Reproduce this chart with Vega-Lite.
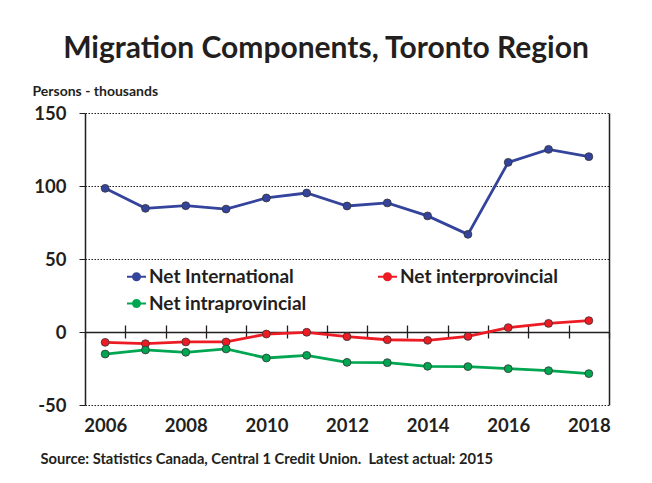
{
  "$schema": "https://vega.github.io/schema/vega-lite/v6.json",
  "width": 524,
  "height": 292,
  "autosize": {"type": "none"},
  "padding": {"left": 85, "top": 113, "right": 43, "bottom": 78},
  "background": "white",
  "title": {
    "text": "Migration Components, Toronto Region",
    "anchor": "middle",
    "frame": "group",
    "dx": -21,
    "font": "Lato",
    "fontSize": 30,
    "fontWeight": "bold",
    "color": "#231F20",
    "offset": 20
  },
  "config": {
    "view": {"stroke": null},
    "font": "Lato",
    "legend": {
      "orient": "none",
      "direction": "horizontal",
      "legendX": 41,
      "legendY": 153,
      "columns": 2,
      "columnPadding": 67,
      "rowPadding": 6,
      "padding": 0,
      "title": null,
      "symbolType": "M-1,0L1,0M-0.37,0A0.37,0.37,0,1,1,0.37,0A0.37,0.37,0,1,1,-0.37,0Z",
      "symbolSize": 361,
      "symbolStrokeWidth": 2,
      "symbolOpacity": 1,
      "labelFont": "Lato",
      "labelFontSize": 19,
      "labelFontWeight": "bold",
      "labelColor": "#231F20",
      "labelOffset": 2,
      "labelLimit": 300
    }
  },
  "data": {
    "values": [
      {"year": 2006, "series": "Net International", "value": 98.4},
      {"year": 2007, "series": "Net International", "value": 84.7},
      {"year": 2008, "series": "Net International", "value": 86.5},
      {"year": 2009, "series": "Net International", "value": 84.2},
      {"year": 2010, "series": "Net International", "value": 91.8},
      {"year": 2011, "series": "Net International", "value": 95.2},
      {"year": 2012, "series": "Net International", "value": 86.3},
      {"year": 2013, "series": "Net International", "value": 88.4},
      {"year": 2014, "series": "Net International", "value": 79.5},
      {"year": 2015, "series": "Net International", "value": 66.9},
      {"year": 2016, "series": "Net International", "value": 116.2},
      {"year": 2017, "series": "Net International", "value": 125.1},
      {"year": 2018, "series": "Net International", "value": 120.1},
      {"year": 2006, "series": "Net interprovincial", "value": -7.1},
      {"year": 2007, "series": "Net interprovincial", "value": -8.0},
      {"year": 2008, "series": "Net interprovincial", "value": -6.8},
      {"year": 2009, "series": "Net interprovincial", "value": -6.8},
      {"year": 2010, "series": "Net interprovincial", "value": -1.4},
      {"year": 2011, "series": "Net interprovincial", "value": -0.2},
      {"year": 2012, "series": "Net interprovincial", "value": -3.2},
      {"year": 2013, "series": "Net interprovincial", "value": -5.3},
      {"year": 2014, "series": "Net interprovincial", "value": -5.7},
      {"year": 2015, "series": "Net interprovincial", "value": -3.0},
      {"year": 2016, "series": "Net interprovincial", "value": 3.0},
      {"year": 2017, "series": "Net interprovincial", "value": 5.9},
      {"year": 2018, "series": "Net interprovincial", "value": 7.8},
      {"year": 2006, "series": "Net intraprovincial", "value": -15.1},
      {"year": 2007, "series": "Net intraprovincial", "value": -12.3},
      {"year": 2008, "series": "Net intraprovincial", "value": -13.9},
      {"year": 2009, "series": "Net intraprovincial", "value": -11.6},
      {"year": 2010, "series": "Net intraprovincial", "value": -17.8},
      {"year": 2011, "series": "Net intraprovincial", "value": -16.0},
      {"year": 2012, "series": "Net intraprovincial", "value": -20.8},
      {"year": 2013, "series": "Net intraprovincial", "value": -21.0},
      {"year": 2014, "series": "Net intraprovincial", "value": -23.5},
      {"year": 2015, "series": "Net intraprovincial", "value": -23.7},
      {"year": 2016, "series": "Net intraprovincial", "value": -25.1},
      {"year": 2017, "series": "Net intraprovincial", "value": -26.5},
      {"year": 2018, "series": "Net intraprovincial", "value": -28.5}
    ]
  },
  "resolve": {"axis": {"x": "independent", "y": "independent"}},
  "layer": [
    {
      "mark": {"type": "line", "strokeWidth": 2.8},
      "encoding": {
        "x": {
          "field": "year",
          "type": "quantitative",
          "scale": {"domain": [2005.5, 2018.5], "nice": false, "zero": false},
          "axis": {
            "orient": "bottom",
            "offset": -73,
            "values": [2005.5, 2006.5, 2007.5, 2008.5, 2009.5, 2010.5, 2011.5, 2012.5, 2013.5, 2014.5, 2015.5, 2016.5, 2017.5, 2018.5],
            "labelExpr": "(datum.value - 0.5) % 2 == 0 ? '' + (datum.value - 0.5) : ''",
            "labelOffset": -20.15,
            "labelFlush": false,
            "labelOverlap": false,
            "labelBound": false,
            "labelPadding": 78,
            "labelFont": "Lato",
            "labelFontSize": 18.5,
            "labelFontWeight": "bold",
            "labelColor": "#231F20",
            "tickSize": 6,
            "tickColor": "#231F20",
            "tickWidth": 1.3,
            "domainColor": "#231F20",
            "domainWidth": 1.5,
            "grid": false,
            "title": "Source: Statistics Canada, Central 1 Credit Union.\u00a0 Latest actual: 2015",
            "titleX": -45,
            "titleY": 127,
            "titleAlign": "left",
            "titleAnchor": null,
            "titleBaseline": "middle",
            "titleFont": "Lato",
            "titleFontSize": 14.7,
            "titleFontWeight": "bold",
            "titleColor": "#231F20"
          }
        },
        "y": {
          "field": "value",
          "type": "quantitative",
          "scale": {"domain": [-50, 150], "nice": false},
          "axis": {
            "orient": "left",
            "values": [-50, 0, 50, 100, 150],
            "labelExpr": "'' + datum.value",
            "grid": true,
            "gridColor": "#231F20",
            "gridDash": [1.5, 1.5],
            "gridWidth": 1,
            "gridOpacity": 1,
            "domainColor": "#231F20",
            "domainWidth": 1.5,
            "tickSize": 6,
            "tickColor": "#231F20",
            "labelPadding": 13,
            "labelFont": "Lato",
            "labelFontSize": 18.5,
            "labelFontWeight": "bold",
            "labelColor": "#231F20",
            "title": "Persons - thousands",
            "titleAngle": 0,
            "titleX": -53,
            "titleY": -22,
            "titleAlign": "left",
            "titleAnchor": null,
            "titleBaseline": "middle",
            "titleFont": "Lato",
            "titleFontSize": 14,
            "titleFontWeight": "bold",
            "titleColor": "#231F20"
          }
        },
        "color": {
          "field": "series",
          "type": "nominal",
          "scale": {
            "domain": ["Net International", "Net interprovincial", "Net intraprovincial"],
            "range": ["#34449C", "#ED1C24", "#00A651"]
          }
        }
      }
    },
    {
      "mark": {"type": "circle", "size": 62, "opacity": 1, "stroke": "#333333", "strokeWidth": 0.8},
      "encoding": {
        "x": {
          "field": "year",
          "type": "quantitative",
          "axis": {
            "orient": "top",
            "offset": -219,
            "values": [2006.5, 2007.5, 2008.5, 2009.5, 2010.5, 2011.5, 2012.5, 2013.5, 2014.5, 2015.5, 2016.5, 2017.5],
            "labels": false,
            "domain": false,
            "grid": false,
            "tickSize": 7,
            "tickColor": "#231F20",
            "tickWidth": 1.3,
            "title": null
          }
        },
        "y": {
          "field": "value",
          "type": "quantitative",
          "axis": {
            "orient": "right",
            "labels": false,
            "ticks": false,
            "grid": false,
            "domain": true,
            "domainColor": "#231F20",
            "domainWidth": 1.5,
            "title": null
          }
        },
        "color": {"field": "series", "type": "nominal"}
      }
    }
  ]
}
